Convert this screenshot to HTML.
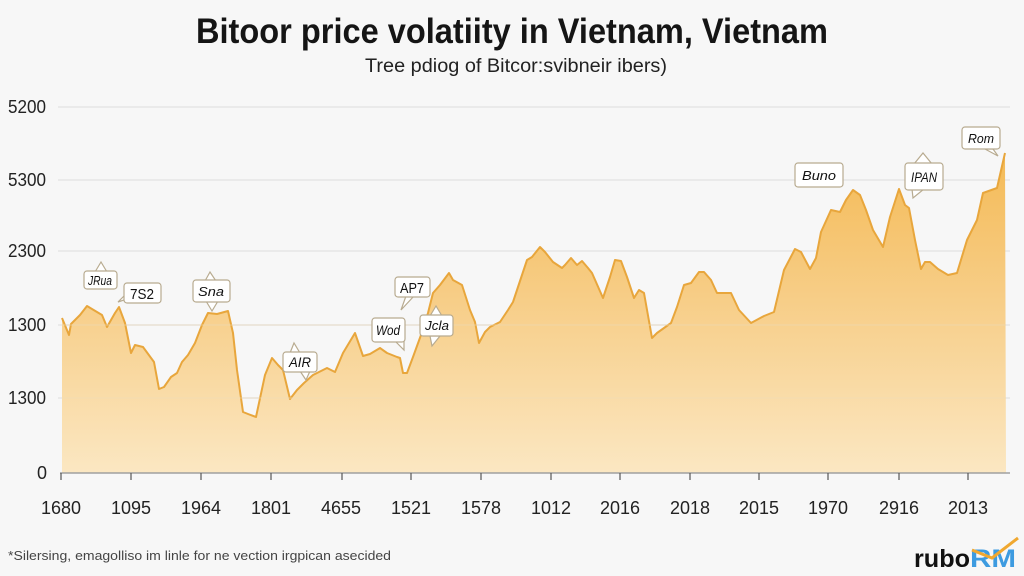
<!DOCTYPE html>
<html><head><meta charset="utf-8"><style>
html,body{margin:0;padding:0;background:#f7f7f7;}
svg{display:block;}
</style></head><body>
<svg width="1024" height="576" viewBox="0 0 1024 576" xmlns="http://www.w3.org/2000/svg" font-family="Liberation Sans, DejaVu Sans, sans-serif">
<defs>
<linearGradient id="fg" x1="0" y1="150" x2="0" y2="473" gradientUnits="userSpaceOnUse">
<stop offset="0" stop-color="#f4ba55"/>
<stop offset="0.45" stop-color="#f7cd86"/>
<stop offset="1" stop-color="#fbe7c2"/>
</linearGradient>
</defs>
<rect width="1024" height="576" fill="#f7f7f7"/>
<text x="512" y="43" font-size="35" font-weight="bold" text-anchor="middle" textLength="632" lengthAdjust="spacingAndGlyphs" fill="#151515">Bitoor price volatiity in Vietnam, Vietnam</text>
<text x="516" y="72" font-size="19" text-anchor="middle" textLength="302" lengthAdjust="spacingAndGlyphs" fill="#222">Tree pdiog of Bitcor:svibneir ibers)</text>
<g stroke="#e6e6e6" stroke-width="1.5">
<line x1="58" y1="107" x2="1010" y2="107"/>
<line x1="58" y1="180" x2="1010" y2="180"/>
<line x1="58" y1="251" x2="1010" y2="251"/>
<line x1="58" y1="325" x2="1010" y2="325"/>
<line x1="58" y1="398" x2="1010" y2="398"/>
</g>
<g font-size="18" fill="#222">
<text x="8" y="113" textLength="38" lengthAdjust="spacingAndGlyphs">5200</text>
<text x="8" y="186" textLength="38" lengthAdjust="spacingAndGlyphs">5300</text>
<text x="8" y="257" textLength="38" lengthAdjust="spacingAndGlyphs">2300</text>
<text x="8" y="331" textLength="38" lengthAdjust="spacingAndGlyphs">1300</text>
<text x="8" y="404" textLength="38" lengthAdjust="spacingAndGlyphs">1300</text>
<text x="37" y="479">0</text>
</g>
<path fill="url(#fg)" stroke="none" d="M62,318 L69,335 L71,324 L80,315 L87,306 L97,312 L102,315 L107,327 L115,313 L119,307 L125,323 L131,353 L135,345 L143,347 L154,362 L159,389 L164,387 L171,377 L177,373 L182,362 L188,355 L195,343 L202,325 L208,313 L217,314 L228,311 L233,333 L237,370 L243,412 L248,414 L256,417 L265,375 L272,358 L278,365 L283,370 L290,399 L297,390 L304,383 L313,375 L327,368 L335,372 L343,353 L355,333 L363,356 L370,354 L380,348 L387,353 L397,357 L400,358 L403,373 L407,373 L413,357 L421,335 L428,313 L433,293 L440,285 L449,273 L453,280 L462,285 L470,310 L475,322 L479,343 L485,332 L490,327 L500,322 L508,310 L513,302 L527,260 L532,257 L540,247 L545,252 L553,262 L562,268 L565,265 L571,258 L577,265 L582,261 L588,268 L592,273 L603,298 L610,277 L615,260 L621,261 L627,277 L634,298 L639,290 L644,293 L652,338 L657,333 L671,323 L677,307 L684,285 L691,283 L699,272 L704,272 L711,280 L717,293 L731,293 L739,310 L751,323 L764,316 L774,312 L784,270 L795,249 L801,252 L810,269 L816,258 L821,232 L831,210 L840,212 L846,200 L853,190 L860,195 L866,210 L873,230 L883,247 L890,217 L899,189 L905,205 L909,208 L915,240 L921,269 L925,262 L930,262 L938,269 L948,275 L957,273 L967,240 L977,220 L983,193 L997,188 L1005,153 L1006,473 L62,473 Z"/>
<path fill="none" stroke="#e8a63c" stroke-width="2" stroke-linejoin="round" d="M62,318 L69,335 L71,324 L80,315 L87,306 L97,312 L102,315 L107,327 L115,313 L119,307 L125,323 L131,353 L135,345 L143,347 L154,362 L159,389 L164,387 L171,377 L177,373 L182,362 L188,355 L195,343 L202,325 L208,313 L217,314 L228,311 L233,333 L237,370 L243,412 L248,414 L256,417 L265,375 L272,358 L278,365 L283,370 L290,399 L297,390 L304,383 L313,375 L327,368 L335,372 L343,353 L355,333 L363,356 L370,354 L380,348 L387,353 L397,357 L400,358 L403,373 L407,373 L413,357 L421,335 L428,313 L433,293 L440,285 L449,273 L453,280 L462,285 L470,310 L475,322 L479,343 L485,332 L490,327 L500,322 L508,310 L513,302 L527,260 L532,257 L540,247 L545,252 L553,262 L562,268 L565,265 L571,258 L577,265 L582,261 L588,268 L592,273 L603,298 L610,277 L615,260 L621,261 L627,277 L634,298 L639,290 L644,293 L652,338 L657,333 L671,323 L677,307 L684,285 L691,283 L699,272 L704,272 L711,280 L717,293 L731,293 L739,310 L751,323 L764,316 L774,312 L784,270 L795,249 L801,252 L810,269 L816,258 L821,232 L831,210 L840,212 L846,200 L853,190 L860,195 L866,210 L873,230 L883,247 L890,217 L899,189 L905,205 L909,208 L915,240 L921,269 L925,262 L930,262 L938,269 L948,275 L957,273 L967,240 L977,220 L983,193 L997,188 L1005,153"/>
<g stroke="#eedcb8" stroke-width="1" opacity="0.6">
<line x1="62" y1="325" x2="1006" y2="325"/>
<line x1="62" y1="398" x2="1006" y2="398"/>
</g>
<line x1="60" y1="473" x2="1010" y2="473" stroke="#a0a0a0" stroke-width="1.5"/>
<g stroke="#555" stroke-width="1.2">
<line x1="61" y1="473" x2="61" y2="480"/><line x1="131" y1="473" x2="131" y2="480"/><line x1="201" y1="473" x2="201" y2="480"/><line x1="271" y1="473" x2="271" y2="480"/><line x1="342" y1="473" x2="342" y2="480"/><line x1="411" y1="473" x2="411" y2="480"/><line x1="481" y1="473" x2="481" y2="480"/><line x1="551" y1="473" x2="551" y2="480"/><line x1="620" y1="473" x2="620" y2="480"/><line x1="690" y1="473" x2="690" y2="480"/><line x1="759" y1="473" x2="759" y2="480"/><line x1="828" y1="473" x2="828" y2="480"/><line x1="899" y1="473" x2="899" y2="480"/><line x1="968" y1="473" x2="968" y2="480"/>
</g>
<g font-size="18" fill="#222" text-anchor="middle">
<text x="61" y="514" textLength="40" lengthAdjust="spacingAndGlyphs">1680</text>
<text x="131" y="514" textLength="40" lengthAdjust="spacingAndGlyphs">1095</text>
<text x="201" y="514" textLength="40" lengthAdjust="spacingAndGlyphs">1964</text>
<text x="271" y="514" textLength="40" lengthAdjust="spacingAndGlyphs">1801</text>
<text x="341" y="514" textLength="40" lengthAdjust="spacingAndGlyphs">4655</text>
<text x="411" y="514" textLength="40" lengthAdjust="spacingAndGlyphs">1521</text>
<text x="481" y="514" textLength="40" lengthAdjust="spacingAndGlyphs">1578</text>
<text x="551" y="514" textLength="40" lengthAdjust="spacingAndGlyphs">1012</text>
<text x="620" y="514" textLength="40" lengthAdjust="spacingAndGlyphs">2016</text>
<text x="690" y="514" textLength="40" lengthAdjust="spacingAndGlyphs">2018</text>
<text x="759" y="514" textLength="40" lengthAdjust="spacingAndGlyphs">2015</text>
<text x="828" y="514" textLength="40" lengthAdjust="spacingAndGlyphs">1970</text>
<text x="899" y="514" textLength="40" lengthAdjust="spacingAndGlyphs">2916</text>
<text x="968" y="514" textLength="40" lengthAdjust="spacingAndGlyphs">2013</text>
</g>
<!-- annotation bubbles -->
<g fill="#fff" stroke="#b8ab90" stroke-width="1.2">
<path d="M95,272 L101,262 L107,272 Z"/><rect x="84" y="271" width="33" height="18" rx="3"/>
<path d="M128,292 L118,302 L130,298 Z"/><rect x="124" y="283" width="37" height="20" rx="3"/>
<path d="M205,281 L210,272 L216,281 Z"/><path d="M206,301 L212,311 L218,301 Z"/><rect x="193" y="280" width="37" height="22" rx="3"/>
<path d="M406,296 L401,310 L414,296 Z"/><rect x="395" y="277" width="35" height="20" rx="3"/>
<path d="M396,342 L404,350 L404,340 Z"/><rect x="372" y="318" width="33" height="24" rx="3"/>
<path d="M430,316 L436,306 L442,316 Z"/><path d="M430,336 L432,346 L440,336 Z"/><rect x="420" y="315" width="33" height="21" rx="3"/>
<path d="M290,353 L294,343 L300,353 Z"/><path d="M300,371 L306,380 L310,371 Z"/><rect x="283" y="352" width="34" height="20" rx="3"/>
<rect x="795" y="163" width="48" height="24" rx="3"/>
<path d="M914,164 L923,153 L932,164 Z"/><path d="M912,189 L913,198 L924,189 Z"/><rect x="905" y="163" width="38" height="27" rx="3"/>
<path d="M985,149 L998,156 L993,149 Z"/><rect x="962" y="127" width="38" height="22" rx="3"/>
</g>
<g font-size="13" fill="#111" font-style="italic" text-anchor="middle">
<text x="100" y="285" textLength="24" lengthAdjust="spacingAndGlyphs">JRua</text>
<text x="142" y="299" font-style="normal" font-size="15" textLength="24" lengthAdjust="spacingAndGlyphs">7S2</text>
<text x="211" y="296" textLength="26" lengthAdjust="spacingAndGlyphs">Sna</text>
<text x="412" y="293" font-style="normal" font-size="15" textLength="24" lengthAdjust="spacingAndGlyphs">AP7</text>
<text x="388" y="335" font-size="14" textLength="24" lengthAdjust="spacingAndGlyphs">Wod</text>
<text x="437" y="330" textLength="24" lengthAdjust="spacingAndGlyphs">Jcla</text>
<text x="300" y="367" font-size="14" textLength="22" lengthAdjust="spacingAndGlyphs">AIR</text>
<text x="819" y="180" textLength="34" lengthAdjust="spacingAndGlyphs">Buno</text>
<text x="924" y="182" font-size="14" textLength="26" lengthAdjust="spacingAndGlyphs">IPAN</text>
<text x="981" y="143" textLength="26" lengthAdjust="spacingAndGlyphs">Rom</text>
</g>
<text x="8" y="560" font-size="13" fill="#444" textLength="383" lengthAdjust="spacingAndGlyphs">*Silersing, emagolliso im linle for ne vection irgpican asecided</text>
<text x="914" y="567" font-size="25" font-weight="bold" fill="#111" textLength="56" lengthAdjust="spacingAndGlyphs">rubo</text>
<text x="970" y="567" font-size="25" font-weight="bold" fill="#3d9be0" textLength="46" lengthAdjust="spacingAndGlyphs">RM</text>
<path d="M972,550 L992,558 L1018,538" fill="none" stroke="#f0a830" stroke-width="3"/>
</svg>
</body></html>
